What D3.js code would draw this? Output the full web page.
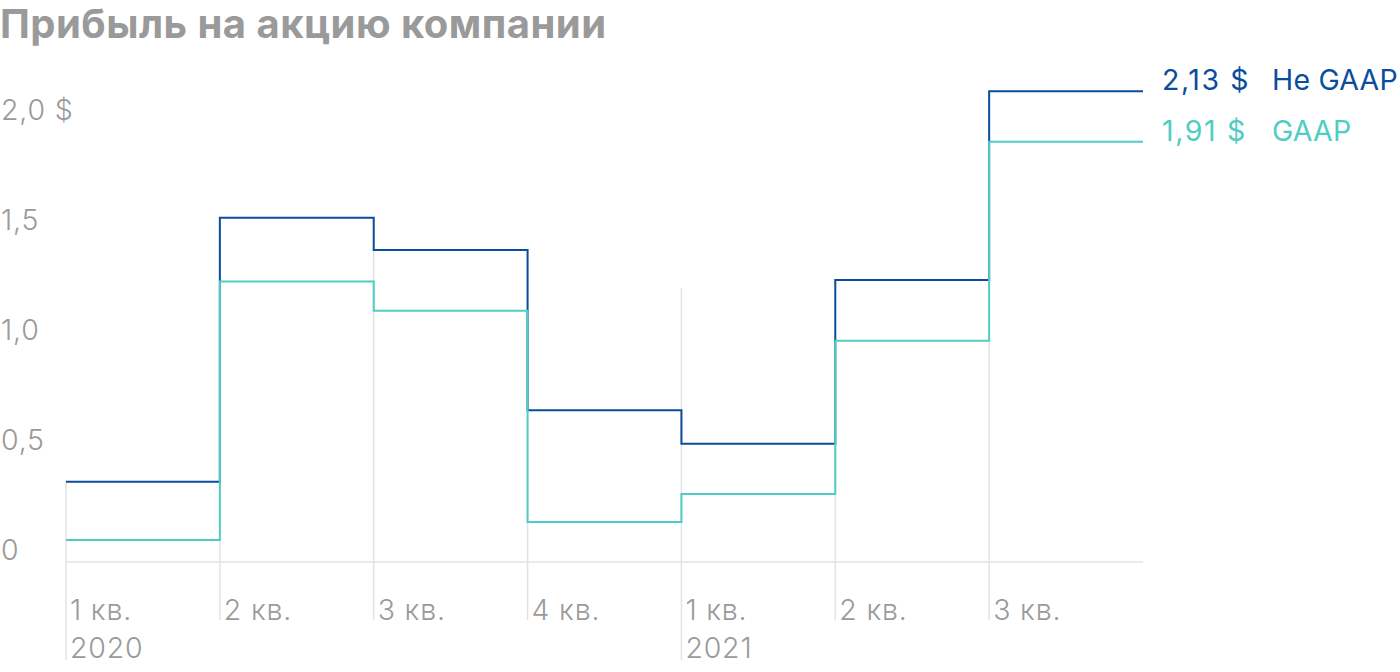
<!DOCTYPE html>
<html><head><meta charset="utf-8">
<script src="https://cdn.jsdelivr.net/npm/d3@7"></script>
<style>
html,body{margin:0;padding:0;background:#fff;}
svg{display:block;}
text{font-family:Inter,Roboto,"Noto Sans",sans-serif;}
</style></head>
<body>
<svg id="chart" width="1400" height="672"></svg>
<script>
const title = "Прибыль на акцию компании";
const quarters = ["1 кв.","2 кв.","3 кв.","4 кв.","1 кв.","2 кв.","3 кв."];
const years = ["2020","","","","2021","",""];
const nonGaap = [0.365, 1.565, 1.418, 0.69, 0.538, 1.282, 2.14];
const gaap = [0.10, 1.275, 1.142, 0.182, 0.309, 1.006, 1.91];
const yTicks = [0, 0.5, 1.0, 1.5, 2.0];
const yTickLabels = ["0","0,5","1,0","1,5","2,0 $"];
const seriesNames = ["Не GAAP","GAAP"];
const endLabels = ["2,13 $","1,91 $"];

const colNon = "#0b4d9c", colGaap = "#4fcdc4", gray = "#9a9a9a", grid = "#e3e3e3";

const svg = d3.select("#chart");
const x = d3.scaleLinear().domain([0, quarters.length]).range([66, 1143]);
const y = d3.scaleLinear().domain([0, 2]).range([562, 122]);

svg.append("text").attr("x", 0).attr("y", 37.5)
  .attr("font-size", 40).attr("font-weight", 700).attr("letter-spacing", 0.45)
  .attr("fill", gray).text(title);

// vertical grid / tick lines
const g = svg.append("g");
quarters.forEach((q, i) => {
  let topVal = Math.max(nonGaap[i], i > 0 ? nonGaap[i-1] : 0);
  if (years[i] && i > 0) topVal = Math.max(topVal, 1.245);
  const bottom = years[i] ? 660 : 620;
  g.append("line").attr("x1", x(i)).attr("x2", x(i))
    .attr("y1", y(topVal)).attr("y2", bottom)
    .attr("stroke", grid).attr("stroke-width", 1.5);
});
// baseline
g.append("line").attr("x1", x(0)).attr("x2", x(quarters.length))
  .attr("y1", y(0)).attr("y2", y(0)).attr("stroke", grid).attr("stroke-width", 1.5);

const lab = (sel) => sel.attr("font-size", 28.5).attr("font-weight", 300)
  .attr("letter-spacing", 0.8).attr("fill", gray);

// y tick labels
yTicks.forEach((v, i) => {
  svg.append("text").attr("x", 1).attr("y", y(v) - 2).call(lab).text(yTickLabels[i]);
});

// x labels
quarters.forEach((q, i) => {
  svg.append("text").attr("x", x(i) + 4).attr("y", 620).call(lab).text(q);
  if (years[i]) svg.append("text").attr("x", x(i) + 4).attr("y", 658).call(lab).text(years[i]);
});

const line = d3.line().x(d => x(d[0])).y(d => y(d[1])).curve(d3.curveStepAfter);
function pts(arr) { const p = arr.map((v, i) => [i, v]); p.push([arr.length, arr[arr.length-1]]); return p; }

svg.append("path").attr("d", line(pts(nonGaap))).attr("fill", "none")
  .attr("stroke", colNon).attr("stroke-width", 2);
svg.append("path").attr("d", line(pts(gaap))).attr("fill", "none")
  .attr("stroke", colGaap).attr("stroke-width", 2);

// end labels
[[nonGaap, colNon], [gaap, colGaap]].forEach(([arr, c], k) => {
  const yy = y(arr[arr.length-1]) - 1;
  svg.append("text").attr("x", 1162).attr("y", yy).attr("font-size", 28.5)
    .attr("letter-spacing", 1.6).attr("font-weight", 400).attr("fill", c).text(endLabels[k]);
  svg.append("text").attr("x", 1272).attr("y", yy).attr("font-size", 28.5)
    .attr("letter-spacing", 0.2).attr("font-weight", 400).attr("fill", c).text(seriesNames[k]);
});
</script>
</body></html>
